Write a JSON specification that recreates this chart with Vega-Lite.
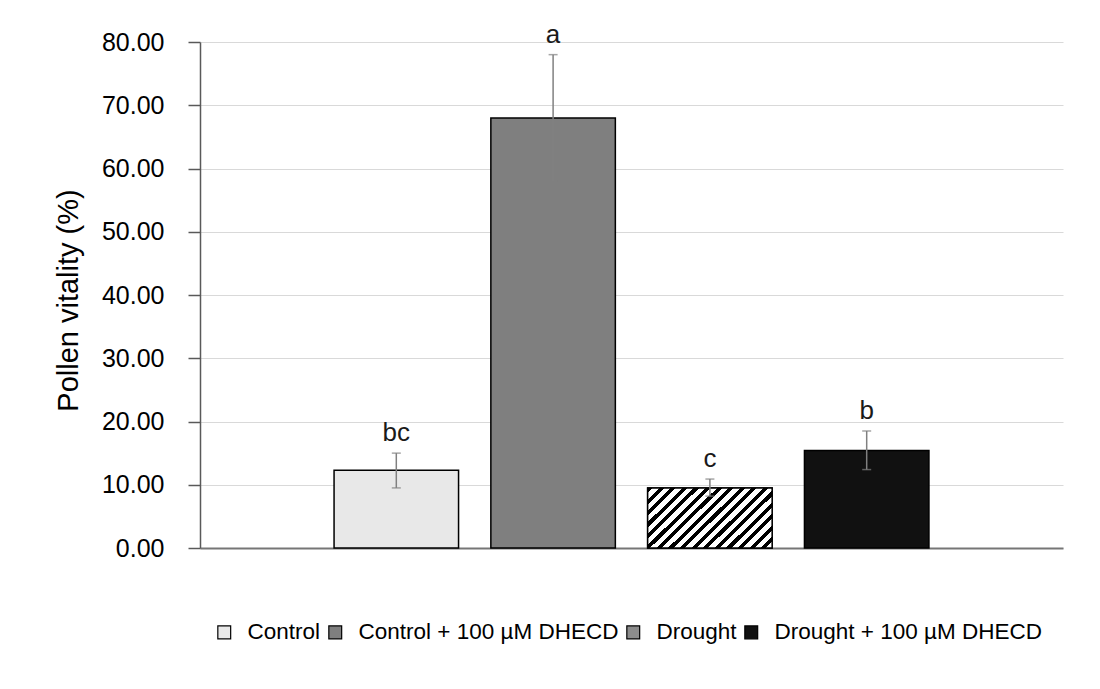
{
  "$schema": "https://vega.github.io/schema/vega-lite/v6.json",
  "autosize": {"type": "none"},
  "padding": {"left": 200, "top": 42, "right": 37, "bottom": 141},
  "width": 863,
  "height": 506,
  "background": "white",
  "config": {
    "view": {"stroke": null},
    "font": "Liberation Sans"
  },
  "data": {
    "values": [
      {"group": "Control", "mean": 12.3, "lo": 9.5, "hi": 15.0, "letter": "bc"},
      {"group": "Control + 100 µM DHECD", "mean": 68.0, "lo": 58.0, "hi": 78.0, "letter": "a"},
      {"group": "Drought", "mean": 9.5, "lo": 8.2, "hi": 10.9, "letter": "c"},
      {"group": "Drought + 100 µM DHECD", "mean": 15.4, "lo": 12.4, "hi": 18.5, "letter": "b"}
    ]
  },
  "encoding": {
    "x": {
      "field": "group",
      "type": "nominal",
      "sort": null,
      "scale": {"paddingInner": 0.206, "paddingOuter": 0.855},
      "axis": {"labels": false, "ticks": false, "title": null, "domainColor": "#767676", "domainWidth": 2, "grid": false}
    }
  },
  "layer": [
    {
      "mark": {"type": "bar", "stroke": "black", "strokeWidth": 1.5},
      "encoding": {
        "y": {
          "field": "mean",
          "type": "quantitative",
          "title": "Pollen vitality (%)",
          "scale": {"domain": [0, 80]},
          "axis": {
            "title": "Pollen vitality (%)",
            "titleFontSize": 29,
            "titleFontWeight": "normal",
            "titleColor": "#000",
            "titleFont": "Liberation Sans",
            "titleBaseline": "alphabetic",
            "titleAngle": 270,
            "titleX": -123,
            "titleY": 258,
            "values": [0, 10, 20, 30, 40, 50, 60, 70, 80],
            "format": ".2f",
            "labelFontSize": 25,
            "labelColor": "#000",
            "labelPadding": 24,
            "tickSize": 12,
            "tickColor": "#595959",
            "tickWidth": 1.5,
            "domainColor": "#595959",
            "domainWidth": 1.5,
            "gridColor": "#d9d9d9",
            "gridWidth": 1.2
          }
        },
        "fill": {
          "field": "group",
          "type": "nominal",
          "sort": null,
          "scale": {
            "domain": ["Control", "Control + 100 µM DHECD", "Drought", "Drought + 100 µM DHECD"],
            "range": ["#e8e8e8", "#7f7f7f", "#8c8c8c", "#111111"]
          },
          "legend": {
            "title": null,
            "orient": "none",
            "direction": "horizontal",
            "legendX": 13,
            "legendY": 579,
            "symbolType": "square",
            "symbolSize": 165,
            "symbolStrokeColor": "black",
            "symbolStrokeWidth": 1.2,
            "symbolOpacity": 1,
            "labelFontSize": 22.5,
            "labelFont": "Liberation Sans",
            "labelColor": "#000",
            "labelOffset": 12,
            "labelLimit": 0,
            "columnPadding": 3,
            "encode": {
              "symbols": {
                "update": {
                  "stroke": {"value": "black"},
                  "strokeWidth": {"value": 1.2}
                }
              }
            }
          }
        }
      }
    },
    {
      "transform": [{"filter": "datum.group === 'Drought'"}],
      "mark": {
        "type": "bar",
        "stroke": "black",
        "strokeWidth": 1.5,
        "fill": {
          "gradient": "linear",
          "x1": 0, "y1": 0, "x2": 1.202, "y2": 0.587,
          "stops": [
            {"offset": 0, "color": "black"}, {"offset": 0.028, "color": "black"}, {"offset": 0.028, "color": "white"}, {"offset": 0.0625, "color": "white"},
            {"offset": 0.0625, "color": "black"}, {"offset": 0.0905, "color": "black"}, {"offset": 0.0905, "color": "white"}, {"offset": 0.125, "color": "white"},
            {"offset": 0.125, "color": "black"}, {"offset": 0.153, "color": "black"}, {"offset": 0.153, "color": "white"}, {"offset": 0.1875, "color": "white"},
            {"offset": 0.1875, "color": "black"}, {"offset": 0.2155, "color": "black"}, {"offset": 0.2155, "color": "white"}, {"offset": 0.25, "color": "white"},
            {"offset": 0.25, "color": "black"}, {"offset": 0.278, "color": "black"}, {"offset": 0.278, "color": "white"}, {"offset": 0.3125, "color": "white"},
            {"offset": 0.3125, "color": "black"}, {"offset": 0.3405, "color": "black"}, {"offset": 0.3405, "color": "white"}, {"offset": 0.375, "color": "white"},
            {"offset": 0.375, "color": "black"}, {"offset": 0.403, "color": "black"}, {"offset": 0.403, "color": "white"}, {"offset": 0.4375, "color": "white"},
            {"offset": 0.4375, "color": "black"}, {"offset": 0.4655, "color": "black"}, {"offset": 0.4655, "color": "white"}, {"offset": 0.5, "color": "white"},
            {"offset": 0.5, "color": "black"}, {"offset": 0.528, "color": "black"}, {"offset": 0.528, "color": "white"}, {"offset": 0.5625, "color": "white"},
            {"offset": 0.5625, "color": "black"}, {"offset": 0.5905, "color": "black"}, {"offset": 0.5905, "color": "white"}, {"offset": 0.625, "color": "white"},
            {"offset": 0.625, "color": "black"}, {"offset": 0.653, "color": "black"}, {"offset": 0.653, "color": "white"}, {"offset": 0.6875, "color": "white"},
            {"offset": 0.6875, "color": "black"}, {"offset": 0.7155, "color": "black"}, {"offset": 0.7155, "color": "white"}, {"offset": 0.75, "color": "white"},
            {"offset": 0.75, "color": "black"}, {"offset": 0.778, "color": "black"}, {"offset": 0.778, "color": "white"}, {"offset": 0.8125, "color": "white"},
            {"offset": 0.8125, "color": "black"}, {"offset": 0.8405, "color": "black"}, {"offset": 0.8405, "color": "white"}, {"offset": 0.875, "color": "white"},
            {"offset": 0.875, "color": "black"}, {"offset": 0.903, "color": "black"}, {"offset": 0.903, "color": "white"}, {"offset": 0.9375, "color": "white"},
            {"offset": 0.9375, "color": "black"}, {"offset": 0.9655, "color": "black"}, {"offset": 0.9655, "color": "white"}, {"offset": 1, "color": "white"}
          ]
        }
      },
      "encoding": {
        "y": {"field": "mean", "type": "quantitative", "title": "Pollen vitality (%)"}
      }
    },
    {
      "mark": {"type": "errorbar", "ticks": true, "size": 9, "thickness": 1.5, "color": "#808080"},
      "encoding": {
        "y": {"field": "lo", "type": "quantitative", "title": "Pollen vitality (%)"},
        "y2": {"field": "hi"}
      }
    },
    {
      "mark": {"type": "text", "fontSize": 26, "font": "Liberation Sans", "color": "#1a1a1a", "baseline": "alphabetic", "dy": -12},
      "encoding": {
        "y": {"field": "hi", "type": "quantitative", "title": "Pollen vitality (%)"},
        "text": {"field": "letter", "type": "nominal"}
      }
    }
  ]
}
